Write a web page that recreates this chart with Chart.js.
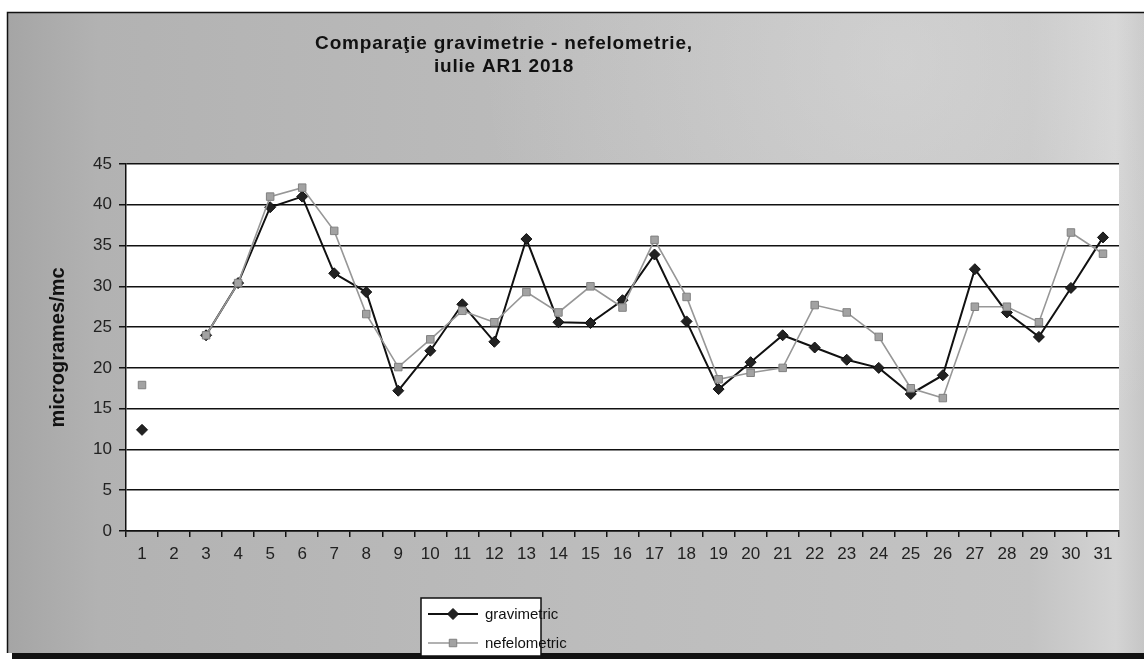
<!DOCTYPE html>
<html>
<head>
<meta charset="utf-8">
<script src="https://cdn.jsdelivr.net/npm/chart.js@4.4.0/dist/chart.umd.min.js"></script>
<style>
html,body{margin:0;padding:0;background:#fff;}
#wrap{width:1144px;height:659px;}
</style>
</head>
<body>
<div id="wrap"><canvas id="myChart" width="1144" height="659"></canvas></div>
<script>
var days=["1","2","3","4","5","6","7","8","9","10","11","12","13","14","15","16",
          "17","18","19","20","21","22","23","24","25","26","27","28","29","30","31"];

var gravimetric=[12.4,null,24.0,30.4,39.7,41.0,31.6,29.3,17.2,22.1,27.8,23.2,35.8,25.6,25.5,28.3,
                 33.9,25.7,17.4,20.7,24.0,22.5,21.0,20.0,16.8,19.1,32.1,26.8,23.8,29.8,36.0];
var nefelometric=[17.9,null,24.0,30.4,41.0,42.1,36.8,26.6,20.1,23.5,27.0,25.6,29.3,26.8,30.0,27.4,
                  35.7,28.7,18.6,19.4,20.0,27.7,26.8,23.8,17.5,16.3,27.5,27.5,25.6,36.6,34.0];

var yMin=0, yMax=45, yStep=5;
var titleLines=["Comparaţie gravimetrie - nefelometrie,","iulie AR1 2018"];
var seriesNames=["gravimetric","nefelometric"];

var FONT="'Liberation Sans', Arial, sans-serif";

// grey panel, frame and white plot area
var backgroundPlugin={
    id:"bg",
    beforeDraw:function(chart){
        var ctx=chart.ctx, w=chart.width, h=chart.height, a=chart.chartArea;
        ctx.save();
        ctx.fillStyle="#fff";
        ctx.fillRect(0,0,w,h);
        var g=ctx.createLinearGradient(7,0,w,0);
        g.addColorStop(0,"#a5a5a5");
        g.addColorStop(0.08,"#b2b2b2");
        g.addColorStop(0.5,"#bcbcbc");
        g.addColorStop(0.9,"#c3c3c3");
        g.addColorStop(0.975,"#d4d4d4");
        g.addColorStop(1,"#c6c6c6");
        ctx.fillStyle=g;
        ctx.fillRect(7,12,w-7,641);
        // lighter haze at the top right
        var r=ctx.createRadialGradient(900,60,10,900,60,420);
        r.addColorStop(0,"rgba(235,235,235,0.35)");
        r.addColorStop(1,"rgba(235,235,235,0)");
        ctx.fillStyle=r;
        ctx.fillRect(7,12,w-7,641);
        ctx.fillStyle="#111";
        ctx.fillRect(12,653,w-12,6);
        ctx.strokeStyle="#111";
        ctx.lineWidth=1.5;
        ctx.beginPath();
        ctx.moveTo(7.5,653);ctx.lineTo(7.5,12.5);ctx.lineTo(w,12.5);
        ctx.stroke();
        ctx.fillStyle="#fff";
        ctx.fillRect(a.left,a.top,a.right-a.left,a.bottom-a.top);
        ctx.restore();
    }
};

// title block, drawn off-centre like the original
var titlePlugin={
    id:"titleBlock",
    afterDraw:function(chart){
        var ctx=chart.ctx;
        ctx.save();
        ctx.fillStyle="#111";
        ctx.font="bold 19px "+FONT;
        if("letterSpacing" in ctx) ctx.letterSpacing="0.8px";
        ctx.textAlign="center";
        ctx.textBaseline="alphabetic";
        ctx.fillText(titleLines[0],504,49);
        ctx.fillText(titleLines[1],504,72);
        ctx.restore();
    }
};

// boxed legend with line + marker samples
var legendPlugin={
    id:"boxLegend",
    afterDraw:function(chart){
        var ctx=chart.ctx, x=421, y=598;
        ctx.save();
        ctx.fillStyle="#fff";
        ctx.fillRect(x,y,120,58);
        ctx.strokeStyle="#111";
        ctx.lineWidth=1.5;
        ctx.strokeRect(x,y,120,58);
        chart.data.datasets.forEach(function(ds,i){
            var cy=y+16+i*29;
            ctx.strokeStyle=ds.borderColor;
            ctx.lineWidth=ds.borderWidth;
            ctx.beginPath();ctx.moveTo(x+7,cy);ctx.lineTo(x+57,cy);ctx.stroke();
            ctx.fillStyle=ds.pointBackgroundColor;
            ctx.strokeStyle=ds.pointBorderColor;
            ctx.lineWidth=1;
            ctx.beginPath();
            if(ds.pointStyle==="rectRot"){
                var r=ds.pointRadius;
                ctx.moveTo(x+32,cy-r);ctx.lineTo(x+32+r,cy);ctx.lineTo(x+32,cy+r);ctx.lineTo(x+32-r,cy);
                ctx.closePath();
            }else{
                var s=ds.pointRadius*Math.SQRT1_2;
                ctx.rect(x+32-s,cy-s,2*s,2*s);
            }
            ctx.fill();ctx.stroke();
            ctx.fillStyle="#111";
            ctx.font="15px "+FONT;
            ctx.textBaseline="middle";
            ctx.fillText(seriesNames[i],x+64,cy+1);
        });
        ctx.restore();
    }
};

var ctx=document.getElementById("myChart").getContext("2d");
var myChart=new Chart(ctx,{
    type:"line",
    data:{
        labels:days,
        datasets:[{
            label:seriesNames[0],
            data:gravimetric,
            borderColor:"#111",
            borderWidth:2,
            pointStyle:"rectRot",
            pointRadius:5.5,
            pointBackgroundColor:"#222",
            pointBorderColor:"#111",
            pointBorderWidth:1,
            spanGaps:false,
            tension:0,
            order:2
        },{
            label:seriesNames[1],
            data:nefelometric,
            borderColor:"#979797",
            borderWidth:1.6,
            pointStyle:"rect",
            pointRadius:5.3,
            pointBackgroundColor:"#a2a2a2",
            pointBorderColor:"#808080",
            pointBorderWidth:1,
            spanGaps:false,
            tension:0,
            order:1
        }]
    },
    options:{
        responsive:false,
        animation:false,
        devicePixelRatio:1,
        layout:{padding:{left:0,top:164,right:25,bottom:88}},
        plugins:{legend:{display:false},title:{display:false},tooltip:{enabled:false}},
        scales:{
            x:{
                offset:true,
                afterFit:function(s){s.height=40;},
                grid:{offset:true,drawOnChartArea:false,drawTicks:true,tickLength:6,color:"#111",lineWidth:1.5},
                border:{display:true,color:"#111",width:1.5},
                ticks:{color:"#222",font:{family:FONT,size:17},padding:7,maxRotation:0,autoSkip:false}
            },
            y:{
                min:yMin,max:yMax,
                afterFit:function(s){s.width=126;},
                grid:{color:"#111",lineWidth:1.5,drawTicks:true,tickLength:7},
                border:{display:true,color:"#111",width:1.5},
                ticks:{stepSize:yStep,color:"#222",font:{family:FONT,size:17},padding:7},
                title:{display:true,text:"microgrames/mc",color:"#111",
                       font:{family:FONT,size:20,weight:"bold"},padding:{top:46,bottom:0}}
            }
        }
    },
    plugins:[backgroundPlugin,titlePlugin,legendPlugin]
});
</script>
</body>
</html>
